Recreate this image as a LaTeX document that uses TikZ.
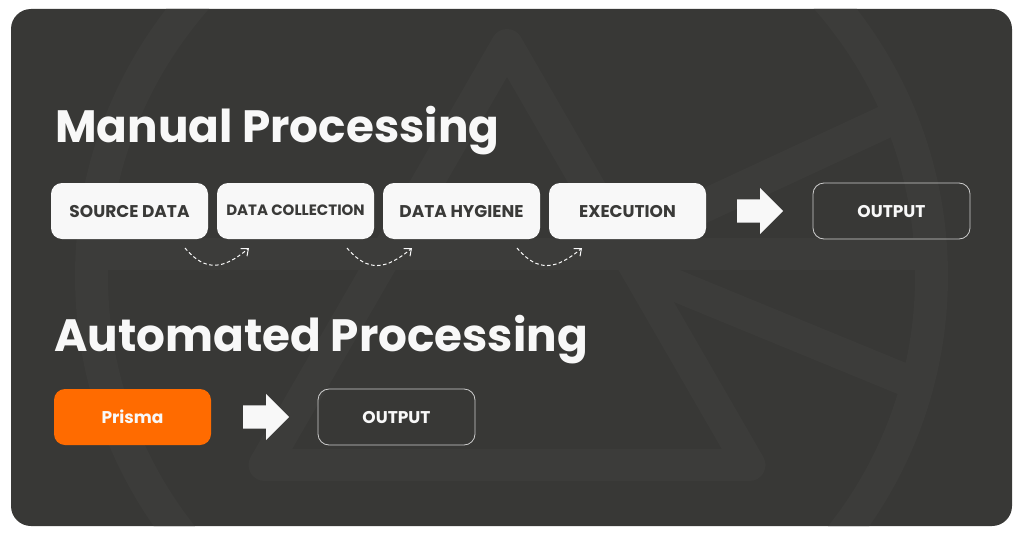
\documentclass[tikz,border=0pt]{standalone}
\usepackage{fontspec}
\setmainfont{Poppins}
\usetikzlibrary{shapes.arrows,arrows.meta}
\definecolor{cardbg}{HTML}{383836}
\definecolor{markbg}{HTML}{3C3C3A}
\definecolor{boxfg}{HTML}{3A3A38}
\definecolor{boxwhite}{HTML}{F8F8F8}
\definecolor{prismaorange}{HTML}{FF6B00}
\begin{document}
\begin{tikzpicture}[x=1pt,y=-1pt,
	whitebox/.style={rectangle,rounded corners=11pt,fill=boxwhite,text=boxfg,minimum width=157pt,minimum height=56pt,inner sep=0pt,text height=12pt,text depth=0pt,font=\fontsize{17}{20}\selectfont\bfseries},
	outbox/.style={whitebox,fill=none,draw=white!75!cardbg,line width=0.8pt,text=boxwhite},
	bigarrow/.style={single arrow,fill=boxwhite,single arrow head extend=11.5pt,single arrow tip angle=90,minimum height=46pt,inner xsep=0pt,inner ysep=11.5pt,anchor=tail},
	heading/.style={anchor=base west,inner sep=0pt,text=boxwhite,font=\fontsize{45.3}{50}\selectfont\bfseries},
	curveline/.style={draw=boxwhite,line width=1pt,dash pattern=on 3.5pt off 2.5pt,-{Straight Barb[length=6pt,width=10pt]}}]

		\useasboundingbox (0,0) rectangle (1024,535);
		\fill[white] (0,0) rectangle (1024,535);
		\fill[cardbg,rounded corners=20pt] (11,9) rectangle (1012,526);

		% faint mark behind everything
		\begin{scope}
			\clip[rounded corners=20pt] (11,9) rectangle (1012,526);
			\draw[markbg,line width=33pt] (511.5,276) circle [radius=420pt];
			\draw[markbg,line width=32pt,line join=round] (507,45) -- (749.5,465) -- (264.5,465) -- cycle;
			\draw[markbg,line width=32pt] (95,254) -- (930,254);
			\draw[markbg,line width=33pt] (620,245) -- (900,115);
			\draw[markbg,line width=32pt] (650,275) -- (925,388);
		\end{scope}

		\node[heading] (manualtitle) at (55,142) {Manual Processing};
		\node[heading] (autotitle) at (54,351) {Automated Processing};

		\node[whitebox] (source) at (129.5,211) {SOURCE DATA};
		\node[whitebox,text depth=3pt,font=\fontsize{15}{18}\selectfont\bfseries] (collection) at (295.5,211) {DATA COLLECTION};
		\node[whitebox] (hygiene) at (461.5,211) {DATA HYGIENE};
		\node[whitebox] (execution) at (627.5,211) {EXECUTION};
		\node[bigarrow] (arrowtop) at (737,211) {};
		\node[outbox] (outputtop) at (891.5,211) {OUTPUT};

		\node[whitebox,fill=prismaorange,text=boxwhite] (prisma) at (132.5,417) {Prisma};
		\node[bigarrow] (arrowbottom) at (243,417) {};
		\node[outbox] (outputbottom) at (396.5,417) {OUTPUT};

		\coordinate (startone) at (185,248);
		\coordinate (endone) at (249,248);
		\coordinate (starttwo) at (347,248);
		\coordinate (endtwo) at (412,248);
		\coordinate (startthree) at (517,248);
		\coordinate (endthree) at (582,248);

		\draw[curveline] (startone) to[out=-50,in=220,looseness=1.3] (endone);
		\draw[curveline] (starttwo) to[out=-50,in=220,looseness=1.3] (endtwo);
		\draw[curveline] (startthree) to[out=-50,in=220,looseness=1.3] (endthree);
	\end{tikzpicture}
\end{document}
